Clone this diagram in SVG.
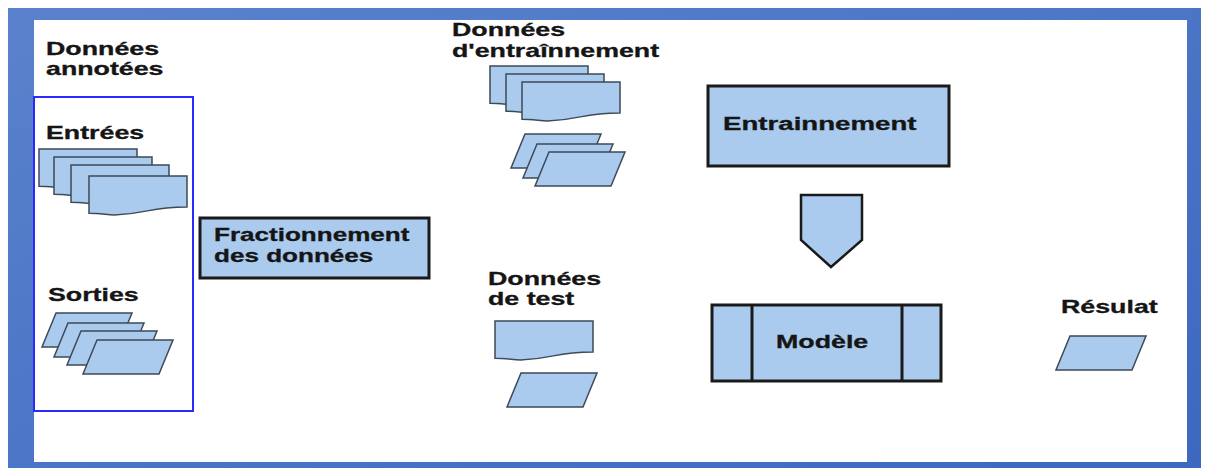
<svg xmlns="http://www.w3.org/2000/svg" width="1210" height="468" viewBox="0 0 1210 468">
  <style>
    .lbl { font-family: "Liberation Sans", Arial, sans-serif; font-weight: bold; font-size: 17.5px; fill: #151515; stroke: #151515; stroke-width: 0.3; }
    .shape { fill: #aacbee; stroke: #3d4a58; stroke-width: 1.5; stroke-linejoin: miter; }
    .box { fill: #aacbee; stroke: #1a1a1a; stroke-width: 3; }
    .arrow { fill: #aacbee; stroke: #1a1a1a; stroke-width: 2.5; }
    .div { stroke: #1a1a1a; stroke-width: 3; }
  </style>
  <defs>
    <linearGradient id="frameGrad" x1="0" y1="0" x2="1" y2="1">
      <stop offset="0" stop-color="#5a82cc"/>
      <stop offset="1" stop-color="#3c68c0"/>
    </linearGradient>
    <!-- flowchart "document" shape, 98 x 39 -->
    <path id="doc" d="M0,0 H98 V31 C59,31 61,37.5 25.5,39 C13,38 8.4,37.3 0,37.2 Z"/>
    <!-- flowchart "data" parallelogram -->
    <path id="para" d="M14,0 H90 L76,34 H0 Z"/>
  </defs>

  <rect width="1210" height="468" fill="#ffffff"/>

  <!-- page frame -->
  <path fill="url(#frameGrad)" fill-rule="evenodd" d="M8,8 H1201 V468 H8 Z M34,20 V462 H1187 V20 Z"/>

  <!-- annotated data group -->
  <g id="donnees-annotees">
    <rect x="34" y="97" width="159" height="314" fill="none" stroke="#2a2aff" stroke-width="2"/>
    <text class="lbl" transform="translate(46,55) scale(1.53,1)">Données</text>
    <text class="lbl" transform="translate(46,75) scale(1.53,1)">annotées</text>
  </g>

  <g id="entrees">
    <text class="lbl" transform="translate(46,139) scale(1.53,1)">Entrées</text>
    <use href="#doc" class="shape" x="39" y="149"/>
    <use href="#doc" class="shape" x="54" y="157"/>
    <use href="#doc" class="shape" x="71" y="165"/>
    <use href="#doc" class="shape" x="89" y="176"/>
  </g>

  <g id="sorties">
    <text class="lbl" transform="translate(48,301) scale(1.53,1)">Sorties</text>
    <use href="#para" class="shape" x="42" y="313"/>
    <use href="#para" class="shape" x="54" y="323"/>
    <use href="#para" class="shape" x="67" y="331"/>
    <use href="#para" class="shape" x="83" y="340"/>
  </g>

  <g id="fractionnement">
    <rect class="box" x="200" y="218" width="229" height="60"/>
    <text class="lbl" transform="translate(214,241) scale(1.49,1)">Fractionnement</text>
    <text class="lbl" transform="translate(214,262) scale(1.49,1)">des données</text>
  </g>

  <g id="donnees-entrainement">
    <text class="lbl" transform="translate(452,36) scale(1.53,1)">Données</text>
    <text class="lbl" transform="translate(452,57) scale(1.53,1)">d'entraînnement</text>
    <use href="#doc" class="shape" x="490" y="66"/>
    <use href="#doc" class="shape" x="506" y="74"/>
    <use href="#doc" class="shape" x="522" y="82"/>
    <use href="#para" class="shape" x="511" y="134"/>
    <use href="#para" class="shape" x="523" y="144"/>
    <use href="#para" class="shape" x="535" y="152"/>
  </g>

  <g id="donnees-test">
    <text class="lbl" transform="translate(488,285) scale(1.53,1)">Données</text>
    <text class="lbl" transform="translate(488,305) scale(1.53,1)">de test</text>
    <use href="#doc" class="shape" x="495" y="321"/>
    <use href="#para" class="shape" x="507" y="373"/>
  </g>

  <g id="entrainement">
    <rect class="box" x="708" y="86" width="241" height="80"/>
    <text class="lbl" transform="translate(723,130) scale(1.58,1)">Entrainnement</text>
  </g>

  <g id="connecteurs">
    <path class="arrow" d="M801,195 H862 V240 L831,267 L801,240 Z"/>
  </g>

  <g id="modele">
    <rect class="box" x="712" y="305" width="229" height="76"/>
    <line class="div" x1="752" y1="305" x2="752" y2="381"/>
    <line class="div" x1="902" y1="305" x2="902" y2="381"/>
    <text class="lbl" transform="translate(776,348) scale(1.53,1)">Modèle</text>
  </g>

  <g id="resultat">
    <text class="lbl" transform="translate(1061,313) scale(1.53,1)">Résulat</text>
    <use href="#para" class="shape" x="1056" y="336"/>
  </g>
</svg>
